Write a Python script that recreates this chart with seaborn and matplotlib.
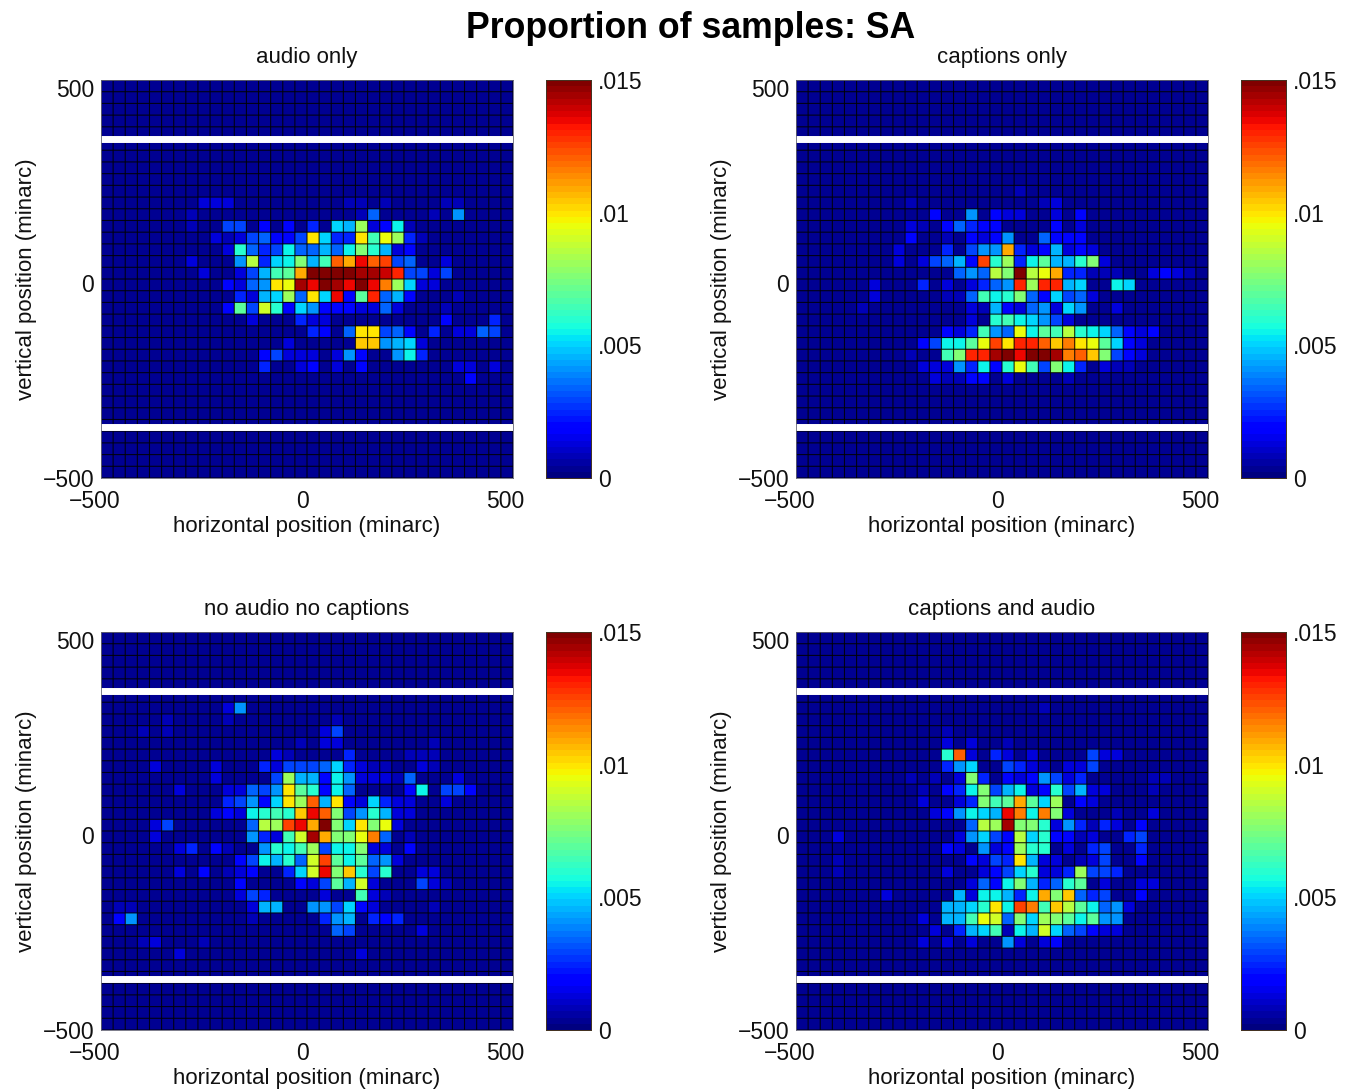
### imports
import numpy as np
import pandas as pd
import matplotlib
matplotlib.use('Agg')
import matplotlib.pyplot as plt
from matplotlib.transforms import ScaledTranslation
import seaborn as sns

sns.set_theme(style='white')
plt.rcParams['font.family'] = ['Liberation Sans', 'DejaVu Sans']

# bin edges in minarc, 30 minarc bins
n_bins = 34
bin_size = 30
x_start = -500
y_top = 520
tick_values = [-500, 0, 500]
tick_labels = ['\u2212500', '0', '500']
cbar_values = [0, 0.005, 0.01, 0.015]
cbar_labels = ['0', '.005', '.01', '.015']
band_values = [369, -369]
level_unit = 0.0005   # cells below are in these units, {row: {column: level}}
background_level = 0.7

audio_only = {
    10: {8:2.5, 9:2.5, 10:2.5, 20:1.6, 21:1.6, 23:1.6, 28:1.6, 29:1.6},
    11: {7:1.6, 21:1.6, 22:7, 27:1.6, 29:8},
    12: {7:1.6, 10:6, 11:6, 13:4, 15:4, 17:5, 19:10, 20:9, 21:16, 22:2.5, 23:4, 24:11, 25:1.6},
    13: {9:2.5, 10:1.6, 11:2.5, 12:6, 13:7, 14:4, 15:4, 16:6, 17:20, 18:10, 19:5, 20:5, 21:20, 22:13, 23:19, 24:16, 25:5, 26:1.6},
    14: {10:2.5, 11:12, 12:7, 13:5, 14:6, 15:11, 16:7, 17:7, 18:9, 19:7, 20:11, 21:15, 22:12, 23:9, 24:2.5, 25:4},
    15: {7:2.5, 11:8, 12:17, 13:5, 14:10, 15:11, 16:15, 17:9, 18:13, 19:24, 20:22, 21:27, 22:24, 23:25, 24:6, 25:7, 28:2.5},
    16: {8:2.5, 11:2.5, 12:6, 13:9, 14:13, 15:14, 16:22, 17:30, 18:30, 19:30, 20:30, 21:29, 22:29, 23:28, 24:26, 25:6, 26:6, 27:2.5, 28:6},
    17: {10:4, 11:2.5, 12:7, 13:8, 14:20, 15:19, 16:29, 17:27, 18:30, 19:29, 20:27, 21:30, 22:27, 23:23, 24:16, 25:10, 26:2.5, 27:2.5},
    18: {11:5, 12:2.5, 13:9, 14:10, 15:16, 16:7, 17:20, 18:10, 19:27, 20:4, 21:14, 22:26, 23:7, 24:9, 25:4, 29:1.6},
    19: {10:4, 11:14, 12:6, 13:18, 14:12, 15:4, 16:10, 17:8, 18:4, 19:4, 20:4, 21:2.5, 22:2.5, 23:7, 24:2.5, 28:1.6},
    20: {12:2.5, 16:5, 17:2.5, 18:2.5, 28:4, 32:5},
    21: {17:5, 18:4, 20:7, 21:20, 22:20, 23:6, 24:7, 25:4, 27:5, 29:2.5, 30:2.5, 31:7, 32:6},
    22: {15:2.5, 21:21, 22:21, 23:8, 24:9, 25:10, 26:2.5},
    23: {13:4, 14:6, 15:2.5, 16:2.5, 17:2.5, 19:2.5, 20:8, 21:4, 24:8, 25:11, 26:5},
    24: {13:5, 16:2.5, 17:4, 19:2.5, 21:4, 29:2.5, 30:2.5, 32:2.5},
    25: {30:4},
}

captions_only = {
    9: {18:1.6},
    10: {9:1.6, 20:1.6, 21:2.5},
    11: {11:4, 14:8, 16:4, 17:2.5, 18:2.5, 21:2.5, 23:4},
    12: {9:2.5, 10:1.6, 12:4, 13:7, 14:5, 15:4, 16:4, 21:4, 23:2.5},
    13: {9:4, 12:1.6, 14:4, 15:2.5, 16:4, 17:8, 20:7, 21:4, 22:4, 23:4},
    14: {8:2.5, 12:5, 14:6, 15:8, 16:8, 17:22, 18:5, 19:2.5, 20:4, 21:9, 22:2.5, 23:4, 24:2.5},
    15: {8:2.5, 10:2.5, 11:6, 12:7, 13:9, 14:4, 15:25, 16:12, 17:16, 18:5, 19:11, 20:14, 21:9, 22:9, 23:12, 24:15, 25:2.5},
    16: {13:7, 14:8, 15:7, 16:17, 17:15, 18:30, 19:17, 20:19, 21:22, 22:5, 23:5, 24:1.6, 25:1.6, 26:1.6, 29:2.5, 30:4, 31:2.5, 32:1.6},
    17: {6:2.5, 10:5, 12:2.5, 14:2.5, 15:5, 16:7, 17:8, 18:26, 19:16, 20:26, 21:26, 22:9, 23:10, 26:11, 27:10},
    18: {6:2.5, 12:1.6, 13:1.6, 14:7, 15:13, 16:11, 17:12, 18:15, 19:7, 20:4, 21:10, 22:6, 23:7, 24:2.5},
    19: {5:1.6, 14:2.5, 15:1.6, 16:9, 17:4, 18:2.5, 19:7, 20:8, 21:2.5, 22:10, 23:8, 26:2.5},
    20: {14:2.5, 16:12, 17:13, 18:11, 19:10, 20:8, 21:6, 22:2.5},
    21: {12:4, 13:2.5, 14:5, 15:13, 16:8, 17:7, 18:19, 19:11, 20:14, 21:13, 22:17, 23:12, 24:11, 25:10, 26:7, 27:4, 28:2.5, 29:4},
    22: {10:4, 11:6, 12:11, 13:11, 14:14, 15:19, 16:25, 17:20, 18:26, 19:26, 20:24, 21:21, 22:23, 23:20, 24:19, 25:14, 26:10, 27:4, 28:2.5},
    23: {9:1.6, 12:13, 13:15, 14:26, 15:26, 16:29, 17:30, 18:27, 19:30, 20:30, 21:29, 22:23, 23:24, 24:21, 25:15, 26:6, 27:4, 28:2.5},
    24: {10:2.5, 11:2.5, 12:2.5, 13:8, 14:5, 15:11, 16:4, 17:12, 18:19, 19:13, 20:6, 21:15, 22:11, 23:5, 25:2.5, 26:1.6, 27:1.6},
    25: {11:2.5, 12:1.6, 13:1.6, 14:4, 15:4, 17:2.5, 22:1.6},
}

no_audio_no_captions = {
    6: {10:2.5, 11:8},
    7: {5:1.6, 10:1.6, 19:1.6},
    8: {3:1.6, 5:1.6, 18:2.5, 19:6},
    9: {16:1.6, 18:2.5, 19:2.5, 27:1.6},
    10: {14:2.5, 15:1.6, 20:5, 25:1.6, 26:1.6, 27:1.6},
    11: {4:2.5, 9:2.5, 13:5, 14:2.5, 15:6, 16:6, 17:6, 18:7, 19:10, 20:5, 21:2.5, 22:1.6, 23:1.6, 26:2.5, 27:1.6},
    12: {9:2.5, 14:6, 15:16, 16:9, 17:9, 18:4, 19:11, 20:8, 21:2.5, 22:2.5, 23:2.5, 24:1.6, 25:7, 29:2.5},
    13: {6:2.5, 10:2.5, 11:2.5, 12:7, 13:6, 14:8, 15:20, 16:14, 17:12, 18:4, 19:11, 20:7, 25:4, 26:11, 28:6, 29:6, 30:4},
    14: {10:5, 11:6, 12:8, 13:4, 14:10, 15:20, 16:16, 17:24, 18:9, 19:20, 20:4, 21:2.5, 22:10, 23:5, 24:2.5, 25:2.5, 28:2.5},
    15: {9:2.5, 10:4, 11:2.5, 12:11, 13:12, 14:13, 15:12, 16:21, 17:27, 18:24, 19:15, 20:6, 21:8, 22:12, 23:9, 24:2.5, 25:2.5},
    16: {4:2.5, 5:6, 12:7, 13:17, 14:16, 15:25, 16:27, 17:22, 18:30, 19:15, 20:10, 21:20, 22:15, 23:19, 24:2.5},
    17: {4:2.5, 12:8, 13:5, 14:2.5, 15:13, 16:18, 17:29, 18:22, 19:15, 20:15, 21:19, 22:23, 23:7, 25:1.6},
    18: {6:2.5, 7:5, 9:4, 10:1.6, 13:8, 14:12, 15:11, 16:13, 17:16, 18:6, 19:11, 20:11, 21:15, 22:2.5, 23:2.5, 25:4},
    19: {11:4, 12:6, 13:11, 14:9, 15:12, 16:7, 17:18, 18:25, 19:14, 20:11, 21:14, 22:7, 23:8, 24:2.5},
    20: {6:2.5, 8:4, 10:1.6, 11:2.5, 12:4, 15:5, 16:10, 17:18, 18:27, 19:15, 20:21, 21:12, 22:6, 23:12, 26:2.5, 27:2.5},
    21: {11:4, 16:4, 17:2.5, 18:6, 19:14, 20:9, 21:18, 22:2.5, 26:6, 27:2.5, 28:1.6},
    22: {11:2.5, 12:6, 13:5, 18:2.5, 21:13, 22:2.5, 23:1.6},
    23: {1:1.6, 2:1.6, 12:2.5, 13:9, 14:9, 17:8, 18:8, 19:6, 20:10, 21:4, 22:2.5, 27:1.6},
    24: {1:4, 2:8, 12:1.6, 18:5, 19:8, 20:9, 22:5, 23:4, 24:5},
    25: {19:7, 20:6, 26:2.5},
    26: {3:1.6, 4:2.5, 8:1.6},
    27: {6:2.5, 21:2.5},
}

captions_and_audio = {
    6: {20:1.6},
    8: {12:1.6},
    9: {12:2.5, 14:2.5, 17:1.6},
    10: {12:12, 13:24, 14:2.5, 16:5, 17:2.5, 19:2.5, 24:6, 25:2.5, 26:2.5},
    11: {12:5, 13:8, 14:10, 17:6, 18:5, 19:2.5, 20:1.6, 22:2.5, 23:2.5, 24:6},
    12: {9:1.6, 11:1.6, 13:2.5, 14:15, 15:5, 17:4, 18:2.5, 19:4, 20:8, 21:6, 22:2.5, 23:5, 29:1.6, 30:1.6},
    13: {10:1.6, 12:4, 13:5, 14:11, 15:15, 16:6, 17:9, 18:11, 19:2.5, 20:4, 21:12, 22:6, 23:9, 24:2.5, 25:2.5, 29:1.6},
    14: {10:2.5, 13:2.5, 14:5, 15:15, 16:13, 17:14, 18:22, 19:14, 20:10, 21:16, 23:4, 24:2.5},
    15: {11:2.5, 12:4, 13:8, 14:11, 15:10, 16:9, 17:27, 18:23, 19:11, 20:23, 21:15, 22:2.5, 26:1.6, 29:2.5},
    16: {14:7, 15:17, 16:16, 17:29, 18:15, 19:15, 20:12, 21:2.5, 22:8, 23:5, 24:1.6, 25:5, 26:2.5, 28:4},
    17: {3:2.5, 13:2.5, 14:8, 15:10, 16:6, 17:4, 18:17, 19:10, 20:12, 21:4, 22:4, 23:1.6, 24:2.5, 27:5, 28:6},
    18: {12:4, 13:2.5, 15:8, 16:2.5, 17:4, 18:16, 19:12, 20:12, 22:2.5, 24:5, 25:6, 28:5},
    19: {3:1.6, 14:4, 15:2.5, 16:6, 17:5, 18:20, 19:9, 20:2.5, 21:2.5, 23:1.6, 24:2.5, 25:6, 28:4},
    20: {3:1.6, 12:2.5, 15:2.5, 16:4, 17:6, 18:10, 19:12, 20:2.5, 21:2.5, 22:5, 23:16, 24:6, 25:6, 26:5},
    21: {14:2.5, 15:7, 16:4, 17:11, 18:15, 19:9, 20:5, 21:7, 22:12, 23:14, 25:2.5, 28:2.5, 29:2.5},
    22: {7:2.5, 13:9, 14:2.5, 15:11, 16:11, 17:9, 18:5, 19:11, 20:22, 21:15, 22:21, 23:7, 24:5, 25:6, 28:4},
    23: {12:9, 13:9, 14:10, 15:12, 16:20, 17:11, 18:25, 19:23, 20:13, 21:21, 22:17, 23:14, 24:11, 25:7, 26:8, 27:2.5},
    24: {10:2.5, 12:9, 13:9, 14:13, 15:19, 16:18, 17:7, 18:15, 19:10, 20:16, 21:15, 22:14, 23:11, 24:14, 25:8, 26:8},
    25: {11:2.5, 13:5, 14:9, 15:10, 16:13, 17:1.6, 18:11, 19:9, 20:18, 21:10, 22:7, 23:6, 24:4, 25:2.5, 26:2.5},
    26: {10:2.5, 12:2.5, 14:2.5, 17:8, 18:2.5, 20:2.5, 21:4},
}

panel_titles = ['audio only', 'captions only', 'no audio no captions', 'captions and audio']
panel_cells = [audio_only, captions_only, no_audio_no_captions, captions_and_audio]

W, H = 1348, 1089
text_color = '#111111'

def to_frame(cells):
    """Expands the {row: {column: level}} table into a dataframe of proportions"""
    grid = np.full((n_bins, n_bins), background_level)
    for row, cols in cells.items():
        for col, level in cols.items():
            grid[row, col] = level
    return pd.DataFrame(grid * level_unit)

def px_axes(fig, left, top, right, bottom):
    return fig.add_axes([left / W, 1 - bottom / H, (right - left) / W, (bottom - top) / H])

fig = plt.figure(figsize=(W / 100, H / 100), dpi=100, facecolor='white')
fig.text(691 / W, 1 - 28 / H, 'Proportion of samples: SA', ha='center', va='center',
         fontsize=25.7, fontweight='bold', color='black')

jet = plt.get_cmap('jet', 64)
lefts = [101, 796, 101, 796]
tops = [80, 80, 632, 632]
nudge = ScaledTranslation(-6 / 100, 0, fig.dpi_scale_trans)

for cells, title, left, top in zip(panel_cells, panel_titles, lefts, tops):
    ax = px_axes(fig, left, top, left + 412, top + 398)
    cax = px_axes(fig, left + 445, top, left + 490, top + 398)
    sns.heatmap(to_frame(cells), ax=ax, cbar_ax=cax, cmap=jet, vmin=0, vmax=0.015,
                xticklabels=False, yticklabels=False)

    # quadmesh edges snap unevenly, so the faceting lines go on separately
    edges = np.arange(n_bins + 1)
    for lines in (ax.vlines(edges, 0, n_bins, color='black', lw=0.8, alpha=0.85),
                  ax.hlines(edges, 0, n_bins, color='black', lw=0.8, alpha=0.85)):
        lines.set_snap(False)

    # heatmap axes count bins, so convert minarc into bin positions
    ax.set_xticks([(v - x_start) / bin_size for v in tick_values])
    ax.set_xticklabels(tick_labels, fontsize=16.5, color=text_color)
    ax.set_yticks([(y_top - v) / bin_size for v in tick_values])
    ax.set_yticklabels(tick_labels, fontsize=16.5, color=text_color, rotation=0)
    ax.tick_params(length=0, pad=5)
    ax.tick_params(axis='x', pad=9)
    first = ax.get_xticklabels()[0]
    first.set_transform(first.get_transform() + nudge)
    ax.set_xlabel('horizontal position (minarc)', fontsize=16, color=text_color, labelpad=2)
    ax.set_ylabel('vertical position (minarc)', fontsize=16, color=text_color, labelpad=4)
    ax.set_title(title, fontsize=16, color=text_color, pad=12)
    for v in band_values:
        ax.axhline((y_top - v) / bin_size, color='white', lw=5)
    ax.set_xlim(0, n_bins)
    ax.set_ylim(n_bins, 0)
    for spine in ax.spines.values():
        spine.set_visible(True)
        spine.set_linewidth(0.6)
        spine.set_color('#666677')

    cax.set_yticks(cbar_values)
    cax.set_yticklabels(cbar_labels, fontsize=16.5, color=text_color)
    cax.tick_params(direction='in', length=3, width=0.6, color='#222222', pad=5, left=True, right=True)
    for spine in cax.spines.values():
        spine.set_visible(True)
        spine.set_linewidth(0.7)
        spine.set_color('#443322')

fig.savefig('out.png', dpi=100)
